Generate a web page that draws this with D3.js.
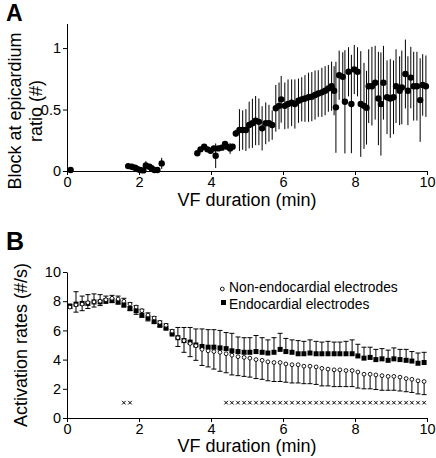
<!DOCTYPE html>
<html><head><meta charset="utf-8">
<script src="https://cdn.jsdelivr.net/npm/d3@7"></script>
<style>
html,body{margin:0;padding:0;background:#fff;}
svg{display:block;font-family:"Liberation Sans",Arial,sans-serif;}
</style></head>
<body>
<svg id="chart" width="436" height="458"></svg>
<script>
// ---------- Panel A data ----------
const blockTime = [0.1, 1.7, 1.8, 1.89, 1.95, 2.03, 2.12, 2.19, 2.29, 2.35, 2.43, 2.51, 2.63,
  3.62, 3.71, 3.81, 3.9, 3.99, 4.08, 4.13, 4.2, 4.3, 4.39, 4.45, 4.53, 4.6,
  4.69, 4.79, 4.88, 4.97, 5.06, 5.15, 5.24, 5.33, 5.42, 5.52,
  5.61, 5.7, 5.8, 5.89, 5.95, 6.05, 6.14, 6.24, 6.33, 6.43,
  6.52, 6.61, 6.71, 6.8, 6.89, 6.98, 7.08, 7.17, 7.26, 7.35,
  7.42, 7.47, 7.56, 7.66, 7.72, 7.82, 7.9, 7.98, 8.07, 8.16,
  8.25, 8.32, 8.38, 8.47, 8.56, 8.65, 8.72, 8.79, 8.89, 8.98,
  9.07, 9.14, 9.24, 9.3, 9.4, 9.47, 9.55, 9.63, 9.72, 9.81,
  9.88, 9.97];
const blockRatio = [0.008, 0.04, 0.035, 0.027, 0.016, 0.008, 0.005, 0.045, 0.035, 0.022, 0.008, 0.008, 0.062,
  0.144, 0.176, 0.198, 0.176, 0.165, 0.184, 0.124, 0.184, 0.19, 0.22, 0.198, 0.184, 0.198,
  0.306, 0.333, 0.333, 0.333, 0.374, 0.388, 0.41, 0.40, 0.347, 0.388,
  0.388, 0.374, 0.51, 0.53, 0.583, 0.53, 0.545, 0.555, 0.545, 0.572,
  0.583, 0.59, 0.6, 0.605, 0.618, 0.63, 0.64, 0.653, 0.672, 0.69,
  0.653, 0.518, 0.78, 0.766, 0.563, 0.807, 0.545, 0.826, 0.807, 0.545,
  0.53, 0.515, 0.69, 0.69, 0.718, 0.59, 0.545, 0.718, 0.6, 0.59,
  0.6, 0.69, 0.653, 0.68, 0.789, 0.653, 0.76, 0.69, 0.69, 0.577,
  0.7, 0.69];
const blockSem = [0.005, 0.01, 0.01, 0.01, 0.01, 0.005, 0.005, 0.035, 0.01, 0.01, 0.005, 0.005, 0.045,
  0.02, 0.02, 0.02, 0.02, 0.02, 0.02, 0.1, 0.02, 0.02, 0.02, 0.02, 0.045, 0.02,
  0.03, 0.17, 0.16, 0.17, 0.19, 0.2, 0.2, 0.19, 0.18, 0.17,
  0.15, 0.12, 0.19, 0.19, 0.19, 0.19, 0.2, 0.19, 0.2, 0.18,
  0.18, 0.19, 0.2, 0.2, 0.2, 0.19, 0.2, 0.2, 0.19, 0.2,
  0.2, 0.37, 0.2, 0.2, 0.42, 0.2, 0.4, 0.2, 0.2, 0.43,
  0.35, 0.3, 0.3, 0.32, 0.3, 0.38, 0.42, 0.3, 0.3, 0.32,
  0.3, 0.3, 0.28, 0.3, 0.28, 0.28, 0.25, 0.28, 0.28, 0.34,
  0.25, 0.25];

// ---------- Panel B data ----------
const rateTime = [0.08, 0.25, 0.42, 0.58, 0.75, 0.92, 1.08, 1.25, 1.42, 1.58,
  1.75, 1.92, 2.08, 2.25, 2.42, 2.58, 2.75, 2.92, 3.08, 3.25,
  3.42, 3.58, 3.75, 3.92, 4.08, 4.25, 4.42, 4.58, 4.75, 4.92,
  5.08, 5.25, 5.42, 5.58, 5.75, 5.92, 6.08, 6.25, 6.42, 6.58,
  6.75, 6.92, 7.08, 7.25, 7.42, 7.58, 7.75, 7.92, 8.08, 8.25,
  8.42, 8.58, 8.75, 8.92, 9.08, 9.25, 9.42, 9.58, 9.75, 9.92];
const endoRate = [7.65, 7.8, 7.85, 7.85, 7.95, 7.95, 8.05, 8.05, 7.95, 7.75,
  7.5, 7.35, 7.05, 6.85, 6.6, 6.35, 6.15, 5.75, 5.5, 5.3,
  5.2, 5.0, 4.9, 4.85, 4.85, 4.8, 4.75, 4.6, 4.55, 4.5,
  4.5, 4.55, 4.5, 4.45, 4.5, 4.7, 4.55, 4.5, 4.4, 4.4,
  4.45, 4.4, 4.4, 4.4, 4.4, 4.4, 4.4, 4.4, 4.25, 4.1,
  4.15, 4.0, 4.05, 3.95, 4.05, 4.0, 3.95, 3.9, 3.75, 3.8];
const endoSem = [0.15, 0.85, 0.5, 0.6, 0.55, 0.5, 0.3, 0.35, 0.4, 0.45,
  0.4, 0.35, 0.4, 0.35, 0.35, 0.3, 0.3, 0.3, 0.7, 0.9,
  1.0, 1.1, 1.2, 1.2, 1.2, 1.2, 1.1, 1.2, 1.0, 1.0,
  1.0, 1.1, 1.0, 0.9, 1.0, 1.1, 0.9, 0.85, 0.9, 0.85,
  0.9, 0.85, 0.8, 0.85, 0.8, 0.8, 0.85, 0.95, 0.8, 0.75,
  0.7, 0.7, 0.7, 0.7, 0.75, 0.7, 0.75, 0.65, 0.7, 0.7];
const nonEndoRate = [7.6, 7.75, 7.8, 7.9, 7.95, 8.0, 8.1, 8.2, 8.15, 8.0,
  7.8, 7.6, 7.35, 7.05, 6.85, 6.55, 6.35, 5.95, 5.5, 5.3,
  5.1, 4.95, 4.7, 4.6, 4.55, 4.5, 4.4, 4.3, 4.2, 4.15,
  4.1, 4.0, 3.95, 3.85, 3.8, 3.8, 3.7, 3.65, 3.65, 3.55,
  3.55, 3.5, 3.4, 3.35, 3.3, 3.3, 3.25, 3.25, 3.15, 3.0,
  3.0, 2.95, 2.9, 2.85, 2.85, 2.8, 2.7, 2.65, 2.55, 2.5];
const nonEndoSem = [0.1, 0.5, 0.45, 0.4, 0.35, 0.3, 0.25, 0.3, 0.35, 0.4,
  0.45, 0.5, 0.45, 0.4, 0.35, 0.3, 0.25, 0.2, 0.6, 0.8,
  0.9, 1.0, 1.1, 1.1, 1.2, 1.3, 1.3, 1.35, 1.3, 1.3,
  1.3, 1.3, 1.3, 1.3, 1.3, 1.3, 1.25, 1.25, 1.25, 1.2,
  1.2, 1.2, 1.2, 1.15, 1.15, 1.15, 1.1, 1.1, 1.1, 1.0,
  1.0, 1.0, 1.0, 0.95, 0.95, 0.95, 0.9, 0.9, 0.9, 0.9];
// times with significant difference (asterisks)
const sigTime = [1.58, 1.75, 4.42, 4.58, 4.75, 4.92, 5.08, 5.25, 5.42, 5.58, 5.75, 5.92,
  6.08, 6.25, 6.42, 6.58, 6.75, 6.92, 7.08, 7.25, 7.42, 7.58, 7.75, 7.92,
  8.08, 8.25, 8.42, 8.58, 8.75, 8.92, 9.08, 9.25, 9.42, 9.58, 9.75, 9.92];
const sigLevel = 1.05;

const xTicks = [0, 2, 4, 6, 8, 10];
const yTicksA = [0, 0.5, 1];
const yTicksB = [0, 2, 4, 6, 8, 10];
const legendLabels = ["Non-endocardial electrodes", "Endocardial electrodes"];

// ---------- drawing ----------
const svg = d3.select("#chart");
const FS = 14.5;

// Panel A
const xA = d3.scaleLinear().domain([0, 10]).range([67, 427]);
const yA = d3.scaleLinear().domain([0, 1.2]).range([171, 23.5]);

const gA = svg.append("g");
const axA = gA.append("g").attr("transform", "translate(0,171)")
  .call(d3.axisBottom(xA).tickValues(xTicks).tickSize(4).tickSizeOuter(0).tickPadding(2).tickFormat(d3.format("d")));
const ayA = gA.append("g").attr("transform", "translate(67,0)")
  .call(d3.axisLeft(yA).tickValues(yTicksA).tickSize(4).tickSizeOuter(0).tickPadding(2).tickFormat(d => d === 0 ? "0" : (d === 1 ? "1" : "0.5")));
[axA, ayA].forEach(a => {
  a.selectAll("text").attr("font-size", FS).attr("font-family", "Liberation Sans, Arial, sans-serif").attr("fill", "#000");
  a.selectAll("path,line").attr("stroke", "#000").attr("stroke-width", 1);
});

const dataA = blockTime.map((t, i) => ({t, v: blockRatio[i], e: blockSem[i]}));
gA.append("g").selectAll("line").data(dataA).join("line")
  .attr("x1", d => xA(d.t)).attr("x2", d => xA(d.t))
  .attr("y1", d => yA(Math.max(0, d.v - d.e))).attr("y2", d => yA(d.v + d.e))
  .attr("stroke", "#000").attr("stroke-width", 1);
gA.append("g").selectAll("circle").data(dataA).join("circle")
  .attr("cx", d => xA(d.t)).attr("cy", d => yA(d.v)).attr("r", 3.2).attr("fill", "#000");

gA.append("text").attr("x", 247).attr("y", 206).attr("text-anchor", "middle")
  .attr("font-size", 18).text("VF duration (min)");
const ylA = gA.append("text").attr("transform", "translate(21,111) rotate(-90)")
  .attr("text-anchor", "middle").attr("font-size", 18);
ylA.append("tspan").attr("x", 0).attr("y", 0).text("Block at epicardium");
ylA.append("tspan").attr("x", 0).attr("y", 21).text("ratio (#)");
svg.append("text").attr("x", 6).attr("y", 21).attr("font-size", 23).attr("font-weight", "bold").text("A");

// Panel B
const xB = d3.scaleLinear().domain([0, 10]).range([67, 427]);
const yB = d3.scaleLinear().domain([0, 10]).range([418, 272]);
const gB = svg.append("g");
const axB = gB.append("g").attr("transform", "translate(0,418)")
  .call(d3.axisBottom(xB).tickValues(xTicks).tickSize(4).tickSizeOuter(0).tickPadding(2).tickFormat(d3.format("d")));
const ayB = gB.append("g").attr("transform", "translate(67,0)")
  .call(d3.axisLeft(yB).tickValues(yTicksB).tickSize(4).tickSizeOuter(0).tickPadding(2).tickFormat(d3.format("d")));
[axB, ayB].forEach(a => {
  a.selectAll("text").attr("font-size", FS).attr("font-family", "Liberation Sans, Arial, sans-serif").attr("fill", "#000");
  a.selectAll("path,line").attr("stroke", "#000").attr("stroke-width", 1);
});

const endo = rateTime.map((t, i) => ({t, v: endoRate[i], e: endoSem[i]}));
const nonEndo = rateTime.map((t, i) => ({t, v: nonEndoRate[i], e: nonEndoSem[i]}));
const cap = 2.5;
// non-endo error bars (downward)
const gNe = gB.append("g").attr("stroke", "#000").attr("stroke-width", 1);
nonEndo.forEach(d => {
  const x = xB(d.t), y0 = yB(d.v), y1 = yB(d.v - d.e);
  gNe.append("line").attr("x1", x).attr("x2", x).attr("y1", y0).attr("y2", y1);
  gNe.append("line").attr("x1", x - cap).attr("x2", x + cap).attr("y1", y1).attr("y2", y1);
});
// endo error bars (upward)
const gEe = gB.append("g").attr("stroke", "#000").attr("stroke-width", 1);
endo.forEach(d => {
  const x = xB(d.t), y0 = yB(d.v), y1 = yB(d.v + d.e);
  gEe.append("line").attr("x1", x).attr("x2", x).attr("y1", y0).attr("y2", y1);
  gEe.append("line").attr("x1", x - cap).attr("x2", x + cap).attr("y1", y1).attr("y2", y1);
});
gB.append("g").selectAll("rect").data(endo).join("rect")
  .attr("x", d => xB(d.t) - 2.5).attr("y", d => yB(d.v) - 2.5)
  .attr("width", 5).attr("height", 5).attr("fill", "#000");
gB.append("g").selectAll("circle").data(nonEndo).join("circle")
  .attr("cx", d => xB(d.t)).attr("cy", d => yB(d.v)).attr("r", 1.9)
  .attr("fill", "#fff").attr("stroke", "#000").attr("stroke-width", 0.9);

// asterisks (x marks)
const gS = gB.append("g").attr("stroke", "#000").attr("stroke-width", 1);
sigTime.forEach(t => {
  const x = xB(t), y = yB(sigLevel), s = 1.8;
  gS.append("line").attr("x1", x - s).attr("x2", x + s).attr("y1", y - s).attr("y2", y + s);
  gS.append("line").attr("x1", x - s).attr("x2", x + s).attr("y1", y + s).attr("y2", y - s);
});

// legend
gB.append("circle").attr("cx", 222.3).attr("cy", 289).attr("r", 1.9)
  .attr("fill", "#fff").attr("stroke", "#000").attr("stroke-width", 0.9);
gB.append("text").attr("x", 229).attr("y", 292).attr("font-size", 13.8).text(legendLabels[0]);
gB.append("rect").attr("x", 221).attr("y", 300).attr("width", 5).attr("height", 5).attr("fill", "#000");
gB.append("text").attr("x", 229).attr("y", 309).attr("font-size", 13.8).text(legendLabels[1]);

gB.append("text").attr("x", 247).attr("y", 452).attr("text-anchor", "middle")
  .attr("font-size", 18).text("VF duration (min)");
gB.append("text").attr("transform", "translate(27,345) rotate(-90)")
  .attr("text-anchor", "middle").attr("font-size", 18).text("Activation rates (#/s)");
svg.append("text").attr("x", 6).attr("y", 250).attr("font-size", 25).attr("font-weight", "bold").text("B");
</script>
</body></html>
